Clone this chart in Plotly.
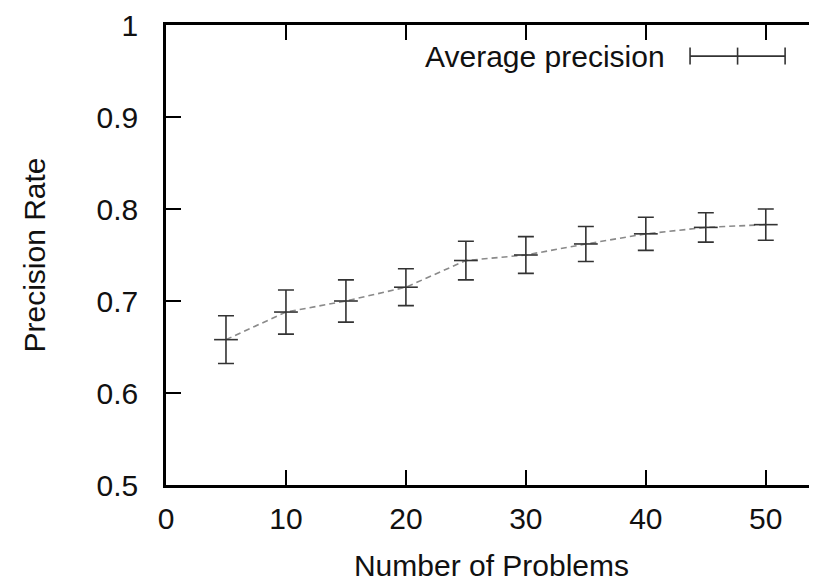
import plotly.graph_objects as go

problems = [5, 10, 15, 20, 25, 30, 35, 40, 45, 50]
avg_precision = [0.658, 0.688, 0.700, 0.715, 0.744, 0.750, 0.762, 0.773, 0.780, 0.783]
precision_err = [0.026, 0.024, 0.023, 0.020, 0.021, 0.020, 0.019, 0.018, 0.016, 0.017]
x_ticks = [0, 10, 20, 30, 40, 50]
y_ticks = [0.5, 0.6, 0.7, 0.8, 0.9, 1.0]
y_tick_labels = ["0.5", "0.6", "0.7", "0.8", "0.9", "1"]

FONT = "Liberation Sans, Arial, sans-serif"
FS = 30
DARK = "#333333"

fig = go.Figure()

# dashed connecting line
fig.add_trace(go.Scatter(
    x=problems, y=avg_precision, mode="lines",
    line=dict(color="#8a8a8a", width=1.6, dash="6px,4px"),
    showlegend=False, hoverinfo="skip"))

# error bars with centre tick
fig.add_trace(go.Scatter(
    x=problems, y=avg_precision, mode="markers",
    marker=dict(symbol="line-ew", size=17, color=DARK,
                line=dict(color=DARK, width=1.6)),
    error_y=dict(type="data", array=precision_err, visible=True,
                 color=DARK, thickness=1.6, width=8),
    showlegend=False, name="Average precision"))

# invisible trace on right axis for mirrored y ticks
fig.add_trace(go.Scatter(x=[None], y=[None], yaxis="y2", showlegend=False))

# manual legend (paper coordinates)
ly = 0.9324
x0, xm, x1 = 0.805, 0.878, 0.951
cap = 0.0185
for (xa, xb, ya, yb) in [(x0, x1, ly, ly), (x0, x0, ly - cap, ly + cap),
                         (x1, x1, ly - cap, ly + cap), (xm, xm, ly - cap, ly + cap)]:
    fig.add_shape(type="line", xref="paper", yref="paper",
                  x0=xa, x1=xb, y0=ya, y1=yb,
                  line=dict(color=DARK, width=1.6))
fig.add_annotation(xref="paper", yref="paper", x=0.7697, y=ly,
                   xanchor="right", yanchor="middle", showarrow=False,
                   text="Average precision",
                   font=dict(family=FONT, size=FS, color="#111111"))

fig.update_layout(
    width=809, height=574,
    margin=dict(l=158, r=0, t=14, b=97),
    paper_bgcolor="white", plot_bgcolor="white",
    font=dict(family=FONT, size=FS, color="#111111"),
    xaxis=dict(
        range=[0, 54.27], tickvals=x_ticks, ticks="inside", ticklen=15,
        tickwidth=2.2, tickcolor="black", showline=True, linecolor="black",
        linewidth=2.6, mirror="ticks", showgrid=False, zeroline=False,
        ticklabelstandoff=5, ticklabeloverflow="allow",
        title=dict(text="Number of Problems", standoff=22,
                   font=dict(family=FONT, size=FS)),
        tickfont=dict(family=FONT, size=FS),
    ),
    yaxis=dict(
        range=[0.5, 1.0], tickvals=y_ticks, ticktext=y_tick_labels,
        ticks="inside", ticklen=15, tickwidth=2.2, tickcolor="black",
        showline=True, linecolor="black", linewidth=2.6, mirror=False,
        showgrid=False, zeroline=False, ticklabelstandoff=19,
        ticklabeloverflow="allow",
        title=dict(text="Precision Rate", standoff=42,
                   font=dict(family=FONT, size=FS)),
        tickfont=dict(family=FONT, size=FS),
    ),
    yaxis2=dict(
        range=[0.5, 1.0], tickvals=y_ticks, overlaying="y", side="right",
        ticks="inside", ticklen=7, tickwidth=2.2, tickcolor="black",
        showticklabels=False, showline=False, showgrid=False, zeroline=False,
    ),
)

fig.write_html("out.html")
